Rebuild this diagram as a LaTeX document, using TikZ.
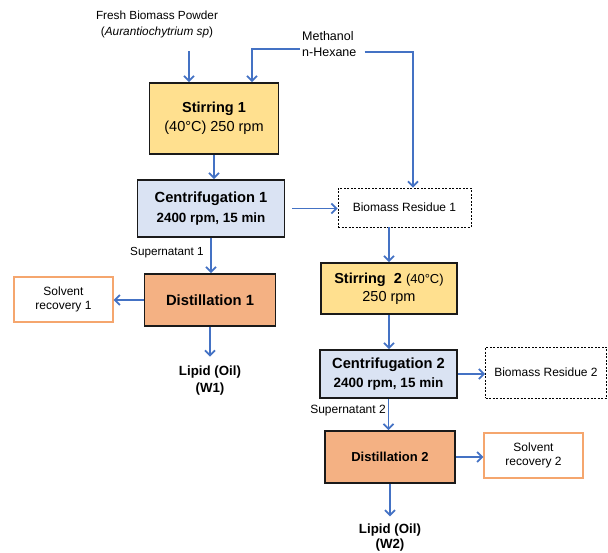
\documentclass[tikz,border=0pt]{standalone}
\usepackage{fontspec}
\setmainfont{Liberation Sans}
\usetikzlibrary{arrows.meta}
\definecolor{flowBlue}{HTML}{4472C4}
\definecolor{stirFill}{HTML}{FFE08F}
\definecolor{centFill}{HTML}{DAE3F3}
\definecolor{distFill}{HTML}{F4B183}
\definecolor{recoverLine}{HTML}{F5A66E}
\definecolor{boxLine}{HTML}{1A1A1A}

\begin{document}
\begin{tikzpicture}[x=1pt, y=-1pt,
    flow/.style={draw=flowBlue, line width=1.8pt, -{Straight Barb[length=5pt,width=10pt]}},
    stage/.style={draw=boxLine, line width=1.6pt, align=center, inner sep=0pt},
    residue/.style={draw=black, line width=0.8pt, dash pattern=on 2pt off 1.5pt,
        align=center, inner sep=0pt, font=\fontsize{12}{14}\selectfont},
    recover/.style={draw=recoverLine, line width=1.3pt, align=center, inner sep=0pt,
        font=\fontsize{12}{13.7}\selectfont},
    note/.style={align=center, inner sep=1pt}]

    \useasboundingbox (0,0) rectangle (608,552);

    % inputs
    \node[note, font=\fontsize{11.8}{16}\selectfont] (feed) at (157,24)
        {Fresh Biomass Powder\\(\textit{Aurantiochytrium sp})};
    \node[note, anchor=west, align=left, inner sep=2pt, font=\fontsize{12.5}{16}\selectfont]
        (solv) at (300,44) {Methanol\\n-Hexane};

    % first extraction
    \node[stage, fill=stirFill, minimum width=129pt, minimum height=71pt,
        font=\fontsize{14.5}{19}\selectfont] (stir1) at (214,118.5)
        {\textbf{Stirring 1}\\(40°C) 250 rpm};
    \node[stage, fill=centFill, minimum width=147pt, minimum height=57pt,
        font=\bfseries\fontsize{13.4}{19.5}\selectfont] (cent1) at (211,208.5)
        {{\fontsize{14.7}{19.5}\selectfont Centrifugation 1}\\2400 rpm, 15 min};
    \node[residue, minimum width=133pt, minimum height=39pt] (res1) at (404.5,207.5)
        {Biomass Residue 1};
    \node[stage, fill=distFill, minimum width=131pt, minimum height=52pt,
        font=\bfseries\fontsize{14.8}{18}\selectfont] (dist1) at (210,300)
        {Distillation 1};
    \node[recover, minimum width=99pt, minimum height=45pt] (rec1) at (63.5,299.5)
        {Solvent\\recovery 1};
    \node[note, font=\bfseries\fontsize{13.3}{17}\selectfont] (lipid1) at (210,380.5)
        {Lipid (Oil)\\(W1)};
    \node[note, font=\fontsize{11.7}{14}\selectfont] (sup1) at (167,253) {Supernatant 1};

    % second extraction
    \node[stage, fill=stirFill, minimum width=136pt, minimum height=51pt,
        font=\fontsize{14.5}{18}\selectfont] (stir2) at (389,288.5)
        {\textbf{Stirring\ \ 2} {\fontsize{13}{18}\selectfont(40°C)}\\250 rpm};
    \node[stage, fill=centFill, minimum width=137pt, minimum height=48pt,
        font=\bfseries\fontsize{13.5}{18.5}\selectfont] (cent2) at (388.5,374)
        {{\fontsize{14.7}{18.5}\selectfont Centrifugation 2}\\2400 rpm, 15 min};
    \node[residue, minimum width=121pt, minimum height=51pt] (res2) at (546,372.5)
        {Biomass Residue 2};
    \node[stage, fill=distFill, minimum width=130pt, minimum height=52pt,
        font=\bfseries\fontsize{13}{16}\selectfont] (dist2) at (390,457)
        {Distillation 2};
    \node[recover, minimum width=99pt, minimum height=45pt] (rec2) at (533.5,455.5)
        {Solvent\\recovery 2};
    \node[note, font=\bfseries\fontsize{13.3}{15.5}\selectfont] (lipid2) at (390,537.5)
        {Lipid (Oil)\\(W2)};
    \node[note, font=\fontsize{12}{14}\selectfont] (sup2) at (348,411) {Supernatant 2};

    % feed lines
    \coordinate (feedIn) at (189,51);
    \coordinate (mixL) at (252,49);
    \coordinate (hexR) at (413,52);
    \draw[flow] (feedIn) -- (feedIn |- stir1.north);
    \draw[flow] (solv.west |- mixL) -| (mixL |- stir1.north);
    \draw[flow] ([xshift=6pt]solv.east |- hexR) -| (hexR |- res1.north);

    % flow of the first stage
    \draw[flow] (stir1.south) -- (stir1.south |- cent1.north);
    \draw[flow] ([xshift=7pt]cent1.east) -- (cent1.east -| res1.west);
    \draw[flow] (cent1.south) -- (cent1.south |- dist1.north);
    \draw[flow] (dist1.west) -- (dist1.west -| rec1.east);
    \draw[flow, shorten >=8pt] (dist1.south) -- (lipid1.north);

    % flow of the second stage
    \draw[flow] (stir2.north |- res1.south) -- (stir2.north);
    \draw[flow] (stir2.south) -- (stir2.south |- cent2.north);
    \draw[flow] (cent2.east) -- (cent2.east -| res2.west);
    \draw[flow] (cent2.south) -- (cent2.south |- dist2.north);
    \draw[flow] (dist2.east) -- (dist2.east -| rec2.west);
    \draw[flow, shorten >=6pt] (dist2.south) -- (dist2.south |- lipid2.north);

\end{tikzpicture}
\end{document}
